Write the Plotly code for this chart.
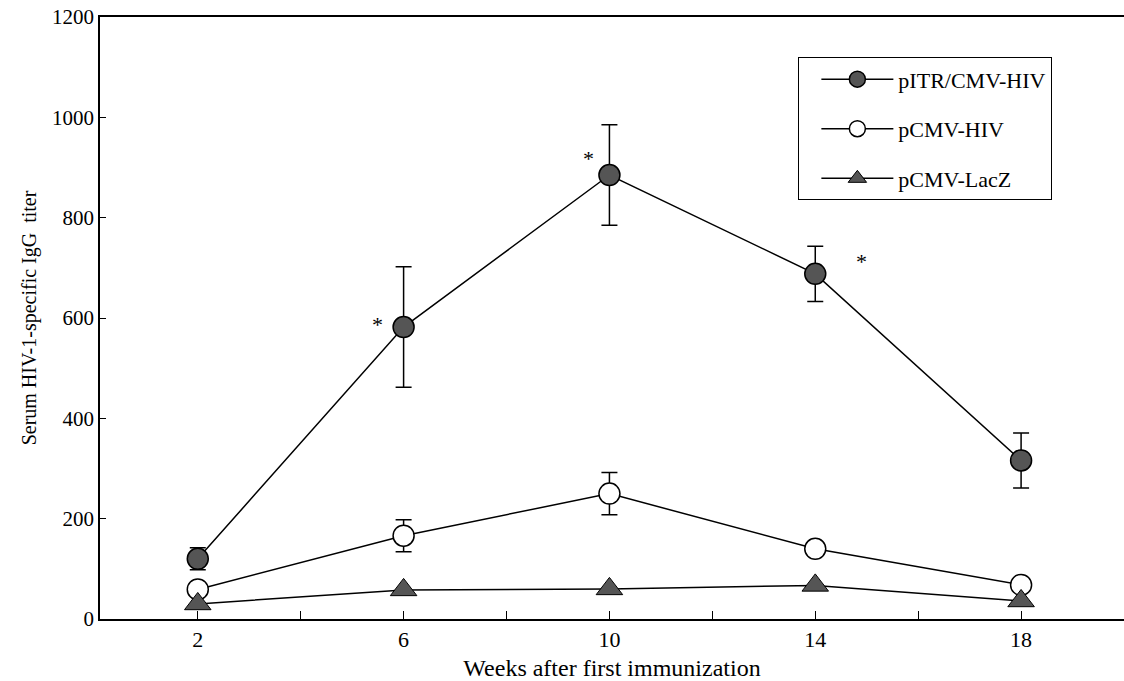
import plotly.graph_objects as go

weeks = [2, 6, 10, 14, 18]
pitr_cmv_hiv = [120, 582, 885, 688, 316]
pitr_cmv_hiv_err = [22, 120, 100, 55, 55]
pcmv_hiv = [59, 166, 250, 140, 68]
pcmv_hiv_err = [8, 32, 42, 10, 8]
pcmv_lacz = [30, 58, 60, 67, 36]

star_x = [5.5, 9.6, 14.9]
star_y = [588, 918, 712]

tick_vals = [2, 4, 6, 8, 10, 12, 14, 16, 18]
tick_text = ["2", "", "6", "", "10", "", "14", "", "18"]

FONT = "Liberation Serif, Times New Roman, serif"
FILL = "#555555"

fig = go.Figure()
fig.add_trace(go.Scatter(
    x=weeks, y=pitr_cmv_hiv, name="pITR/CMV-HIV", legendgroup="a",
    mode="lines+markers",
    line=dict(color="black", width=1.5),
    marker=dict(symbol="circle", size=21, color=FILL, line=dict(color="black", width=1.5)),
    error_y=dict(type="data", array=pitr_cmv_hiv_err, color="black", thickness=1.5, width=8),
))
fig.add_trace(go.Scatter(
    x=weeks, y=pcmv_hiv, name="pCMV-HIV", legendgroup="b",
    mode="lines+markers",
    line=dict(color="black", width=1.5),
    marker=dict(symbol="circle", size=21, color="white", line=dict(color="black", width=1.5)),
    error_y=dict(type="data", array=pcmv_hiv_err, color="black", thickness=1.5, width=8),
))
fig.add_trace(go.Scatter(
    x=weeks, y=pcmv_lacz, name="pCMV-LacZ", legendgroup="c",
    mode="lines+markers",
    line=dict(color="black", width=1.5),
    marker=dict(symbol="triangle-up", size=23, color=FILL, line=dict(color="black", width=1)),
))

for sx, sy in zip(star_x, star_y):
    fig.add_annotation(x=sx, y=sy, text="*", showarrow=False,
                       font=dict(family=FONT, size=22, color="black"))

fig.update_layout(
    width=1124, height=681,
    paper_bgcolor="white", plot_bgcolor="white",
    margin=dict(l=100, r=0, t=17, b=62),
    font=dict(family=FONT, size=20, color="black"),
    showlegend=True,
    legend=dict(
        x=0.682, y=0.933, xanchor="left", yanchor="top",
        bgcolor="white", bordercolor="black", borderwidth=1,
        font=dict(family=FONT, size=22, color="black"),
        tracegroupgap=18, indentation=17, itemwidth=72,
    ),
    xaxis=dict(
        range=[0.1, 20], tickmode="array", tickvals=tick_vals, ticktext=tick_text,
        ticks="inside", ticklen=8, tickwidth=1.2, tickcolor="black",
        showline=True, linecolor="black", linewidth=1.5, mirror=True,
        showgrid=False, zeroline=False,
        title=dict(text="Weeks after first immunization", font=dict(family=FONT, size=24), standoff=8),
        tickfont=dict(family=FONT, size=22),
    ),
    yaxis=dict(
        range=[0, 1200], tickmode="array", tickvals=[0, 200, 400, 600, 800, 1000, 1200],
        ticks="inside", ticklen=6, tickwidth=1.2, tickcolor="black",
        showline=True, linecolor="black", linewidth=1.5,
        showgrid=False, zeroline=False,
        title=dict(text="Serum HIV-1-specific IgG\u00a0 titer", font=dict(family=FONT, size=20), standoff=10),
        tickfont=dict(family=FONT, size=21),
    ),
)

fig.write_html("out.html")
